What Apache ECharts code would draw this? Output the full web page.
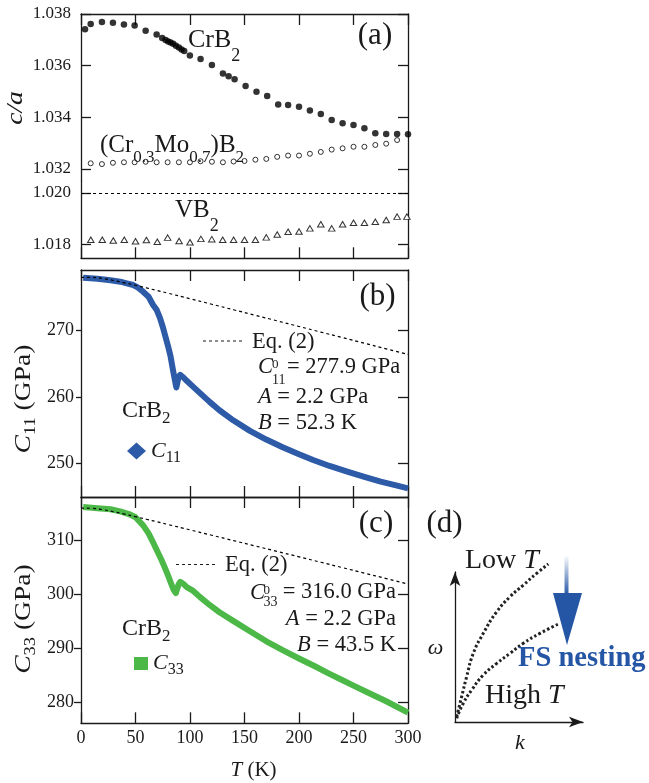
<!DOCTYPE html>
<html>
<head>
<meta charset="utf-8">
<script src="https://cdn.jsdelivr.net/npm/echarts@6/dist/echarts.min.js"></script>
<style>
  html, body { margin: 0; padding: 0; background: #ffffff; }
  #chart { width: 649px; height: 783px; }
</style>
</head>
<body>
<div id="chart"></div>
<script>
// ---------- (a) c/a ratio versus temperature ----------
const crb2T  = [3.7, 8.9, 19.2, 29.3, 39.4, 49.2, 59.3, 69.4, 74.5, 77.6, 80, 82.2, 84.6, 87.1, 89.8, 92.3, 94.7, 99.9, 109.7, 120.1, 130.2, 135.4, 140.9, 151, 161, 170.8, 180.9, 190, 200, 210, 220, 230, 240, 250, 260, 270, 280, 290, 300];
const crb2CA = [1.03741, 1.03761, 1.03769, 1.03766, 1.03759, 1.03755, 1.03735, 1.03721, 1.03707, 1.03699, 1.03694, 1.03690, 1.03685, 1.03677, 1.03670, 1.03663, 1.03657, 1.03639, 1.03626, 1.03603, 1.03570, 1.03559, 1.03547, 1.03521, 1.03499, 1.03483, 1.03450, 1.03448, 1.03441, 1.03426, 1.03413, 1.03390, 1.03377, 1.03370, 1.03358, 1.03338, 1.03335, 1.03335, 1.03334];

const crmoT  = [8.9, 19.2, 29.3, 39.4, 49.2, 59.3, 69.4, 79.5, 89.8, 99.9, 109.7, 120.1, 130.2, 140, 150, 160, 170, 180, 190, 200, 210, 220, 230, 240, 250, 260, 270, 280, 290];
const crmoCA = [1.03222, 1.03219, 1.03224, 1.03226, 1.03226, 1.03228, 1.03226, 1.03226, 1.03226, 1.03226, 1.03230, 1.03228, 1.03226, 1.03229, 1.03231, 1.03236, 1.03239, 1.03247, 1.03252, 1.03252, 1.03259, 1.03266, 1.03275, 1.03280, 1.03286, 1.03286, 1.03293, 1.03298, 1.03312];

const vb2T  = [9, 19.5, 29.6, 39.7, 50, 60, 70, 79.5, 90, 100, 110, 120, 130, 140, 150, 160, 170, 180, 190, 200, 210, 220, 230, 240, 250, 260, 270, 280, 290, 299];
const vb2CA = [1.01818, 1.01818, 1.01815, 1.01818, 1.01812, 1.01817, 1.01810, 1.01826, 1.01813, 1.01808, 1.01821, 1.01820, 1.01818, 1.01818, 1.01818, 1.01818, 1.01827, 1.01838, 1.01849, 1.01850, 1.01862, 1.01878, 1.01862, 1.01878, 1.01884, 1.01884, 1.01888, 1.01895, 1.01908, 1.01908];

// ---------- (b) C11 of CrB2 ----------
const c11T = [2, 15, 27, 36, 42, 48, 52, 57, 62, 66, 69.5, 72.5, 75, 77, 80, 82, 84.5, 86.5, 87.5, 88.5, 89.5, 91, 94, 97, 103, 109, 118, 127, 140, 155, 170, 185, 200, 213, 228, 245, 260, 275, 290, 300];
const c11  = [277.85, 277.7, 277.45, 277.25, 277.0, 276.75, 276.4, 275.75, 275.0, 273.8, 273.0, 271.8, 270.5, 269.3, 267.5, 266.2, 263.9, 262.2, 261.4, 261.6, 263.0, 263.3, 262.9, 262.4, 261.5, 260.6, 259.25, 258.0, 256.45, 254.9, 253.6, 252.45, 251.4, 250.55, 249.65, 248.75, 248.0, 247.3, 246.7, 246.3];

// Eq. (2) curve for C11 (C0 = 277.9 GPa, A = 2.2 GPa, B = 52.3 K)
const fitT    = [0, 10, 20, 30, 40, 50, 60, 70, 80, 100, 120, 140, 160, 180, 200, 220, 240, 260, 280, 300];
const fitC11  = [277.9, 277.89, 277.73, 277.43, 277.08, 276.71, 276.32, 275.92, 275.52, 274.70, 273.87, 273.04, 272.21, 271.38, 270.54, 269.70, 268.87, 268.03, 267.19, 266.35];

// ---------- (c) C33 of CrB2 ----------
const c33T = [2, 15, 27, 36, 44, 50, 57, 62, 66, 70, 74, 77, 80, 83, 85, 87, 88.5, 89.5, 91, 94, 97, 103, 109, 118, 127, 140, 155, 170, 185, 200, 215, 228, 240, 250, 265, 280, 300];
const c33  = [316.2, 316.0, 315.8, 315.4, 314.9, 314.3, 312.8, 311.3, 309.7, 308.0, 306.3, 304.9, 303.4, 301.8, 300.8, 300.2, 300.3, 301.8, 302.3, 301.9, 301.3, 300.6, 299.5, 298.0, 296.65, 295.0, 293.1, 291.25, 289.6, 288.05, 286.55, 285.2, 284.0, 283.0, 281.55, 280.1, 278.0];

// Eq. (2) curve for C33 (C0 = 316.0 GPa, A = 2.2 GPa, B = 43.5 K)
const fitC33 = [316.0, 315.97, 315.72, 315.33, 314.88, 314.41, 313.93, 313.45, 312.95, 311.96, 310.96, 309.96, 308.96, 307.95, 306.95, 305.94, 304.93, 303.92, 302.91, 301.90];

// ---------- tick labels ----------
const tTicks       = [0, 50, 100, 150, 200, 250, 300];
const caTicksUpper = [1.032, 1.034, 1.036, 1.038];
const caTicksLower = [1.018, 1.020];
const c11Ticks     = [250, 260, 270];
const c33Ticks     = [280, 290, 300, 310];

// ---------- (d) schematic dispersion omega(k) ----------
const lowTk  = [0.013, 0.052, 0.091, 0.143, 0.221, 0.326, 0.430, 0.534, 0.638, 0.729];
const lowTw  = [0.035, 0.169, 0.302, 0.458, 0.591, 0.735, 0.835, 0.913, 0.991, 1.053];
const highTk = [0.013, 0.065, 0.130, 0.221, 0.326, 0.430, 0.534, 0.664, 0.807];
const highTw = [0.025, 0.125, 0.213, 0.313, 0.391, 0.458, 0.525, 0.591, 0.653];

// ---------- styling ----------
const SERIF = '"Liberation Serif", "Times New Roman", serif';
const INK = '#1a1a1a';
const BLUE = '#2e5ba8';
const GREEN = '#4cb848';
const ARROW_BLUE = '#2556a6';

const zip = (xs, ys) => xs.map((x, i) => [x, ys[i]]);

function xFrame(gridIndex, position, withLabels) {
  return {
    type: 'value', gridIndex, position, min: tTicks[0], max: tTicks[tTicks.length - 1], interval: 50,
    axisLine: { show: true, onZero: false, lineStyle: { color: INK, width: 1.3 } },
    axisTick: { show: true, inside: true, length: 11, lineStyle: { color: INK, width: 1.3 } },
    axisLabel: { show: withLabels, color: INK, fontFamily: SERIF, fontSize: 18, margin: 6 },
    splitLine: { show: false }
  };
}

function yFrame(gridIndex, position, min, max, ticks, o) {
  const left = position === 'left';
  return {
    type: 'value', gridIndex, position, min, max,
    axisLine: { show: true, onZero: false, lineStyle: { color: INK, width: 1.3 } },
    axisTick: {
      show: true, inside: left ? o.inside : true, length: left ? o.len : 10,
      customValues: ticks, lineStyle: { color: INK, width: 1.3 }
    },
    axisLabel: {
      show: left, customValues: ticks, formatter: o.fmt, color: INK,
      fontFamily: SERIF, fontSize: o.fs, margin: o.margin
    },
    splitLine: { show: false }
  };
}

const fmt3 = v => Number(v).toFixed(3);
const fmt0 = v => String(Math.round(v));

// ranges of the two halves of the broken c/a axis
const caUpper = [1.031535, 1.038];
const caLower = [1.017454, 1.020468];

function text(x, y, str, size, extra) {
  const st = Object.assign({
    text: str, fontSize: size, fontFamily: SERIF, fill: INK,
    align: 'left', verticalAlign: 'middle'
  }, extra || {});
  return { type: 'text', x, y, z: 100, style: st };
}
function subRich(size, drop) {
  return { s: { fontSize: size, fontFamily: SERIF, fill: INK, padding: [drop, 0, 0, 0] },
           i: { fontStyle: 'italic', fontFamily: SERIF, fill: INK } };
}
function italicRich(size) {
  return { i: { fontStyle: 'italic', fontSize: size, fontFamily: SERIF, fill: INK } };
}
function axisTitle(x, y, str, size, sub) {
  return { type: 'text', x, y, rotation: Math.PI / 2, scaleX: 1.15, z: 100,
    style: { text: str, fontSize: size, fontFamily: SERIF, fill: INK, align: 'center', verticalAlign: 'middle',
             rich: { i: { fontStyle: 'italic', fontSize: size, fontFamily: SERIF, fill: INK },
                     s: { fontSize: sub, fontFamily: SERIF, fill: INK, padding: [13, 0, 0, 0] } } } };
}

const graphics = [
  // panel (a)
  text(375, 36, '(a)', 31, { align: 'center' }),
  text(188, 40, 'CrB{s|2}', 26, { rich: subRich(18, 33) }),
  text(100, 145, '(Cr{s|0.3}Mo{s|0.7})B{s|2}', 25, { rich: subRich(17, 25) }),
  text(175, 210, 'VB{s|2}', 25, { rich: subRich(18, 33) }),
  { type: 'text', x: 16, y: 108, rotation: Math.PI / 2, scaleX: 1.15, z: 100,
    style: { text: 'c/a', fontSize: 24, fontStyle: 'italic', fontFamily: SERIF, fill: INK, align: 'center', verticalAlign: 'middle' } },

  // panel (b)
  text(377.5, 296.5, '(b)', 31, { align: 'center' }),
  { type: 'line', z: 100, shape: { x1: 203, y1: 341, x2: 245, y2: 341 }, style: { stroke: INK, lineWidth: 1.2, lineDash: [3, 3] } },
  text(252, 342, 'Eq. (2)', 22.5),
  text(258, 367, 'C', 22.5, { fontStyle: 'italic' }),
  text(272, 365, '0', 13),
  text(272, 380, '11', 14),
  text(287, 367, '= 277.9 GPa', 22.5),
  text(258, 397, '{i|A} = 2.2 GPa', 22.5, { rich: italicRich(22.5) }),
  text(258, 423.5, '{i|B} = 52.3 K', 22.5, { rich: italicRich(22.5) }),
  text(122, 410.5, 'CrB{s|2}', 24, { rich: subRich(17, 17) }),
  axisTitle(24, 399, '{i|C}{s|11} (GPa)', 24, 16),

  // panel (c)
  text(376, 524, '(c)', 31, { align: 'center' }),
  { type: 'line', z: 100, shape: { x1: 176, y1: 564.5, x2: 217, y2: 564.5 }, style: { stroke: INK, lineWidth: 1.2, lineDash: [3, 3] } },
  text(225, 565, 'Eq. (2)', 22.5),
  text(250, 593, 'C', 22.5, { fontStyle: 'italic' }),
  text(263.5, 591, '0', 13),
  text(263.5, 602, '33', 14),
  text(396, 592, '= 316.0 GPa', 22.5, { align: 'right' }),
  text(396, 619.5, '{i|A} = 2.2 GPa', 22.5, { align: 'right', rich: italicRich(22.5) }),
  text(396, 645.5, '{i|B} = 43.5 K', 22.5, { align: 'right', rich: italicRich(22.5) }),
  text(122, 628.5, 'CrB{s|2}', 24, { rich: subRich(17, 17) }),
  axisTitle(24, 619, '{i|C}{s|33} (GPa)', 24, 16),
  text(253.5, 770, '{i|T} (K)', 21, { align: 'center', rich: italicRich(21) }),

  // panel (d)
  text(444.5, 524, '(d)', 31, { align: 'center' }),
  text(465, 561, 'Low {i|T}', 28, { rich: italicRich(28) }),
  text(485, 696, 'High {i|T}', 28, { rich: italicRich(28) }),
  text(435.5, 648.5, 'ω', 22, { align: 'center', fontStyle: 'italic' }),
  text(520, 743.5, 'k', 22, { align: 'center', fontStyle: 'italic' }),
  text(518, 659, 'FS nesting', 28.5, { fontWeight: 'bold', fill: ARROW_BLUE }),
  { type: 'rect', z: 100, shape: { x: 564.5, y: 555, width: 4, height: 40 },
    style: { fill: new echarts.graphic.LinearGradient(0, 0, 0, 1, [
      { offset: 0, color: 'rgba(37,86,166,0)' }, { offset: 1, color: ARROW_BLUE }]) } },
  { type: 'polygon', z: 100, shape: { points: [[553, 593], [582, 593], [567, 645]] }, style: { fill: ARROW_BLUE } }
];

const legendText = (size, sub, drop) => ({
  color: INK, fontFamily: SERIF, fontSize: size,
  rich: {
    i: { fontStyle: 'italic', fontSize: size, fontFamily: SERIF, color: INK },
    s: { fontSize: sub, fontFamily: SERIF, color: INK, padding: [drop, 0, 0, 0] }
  }
});

const option = {
  animation: false,
  backgroundColor: '#ffffff',
  textStyle: { fontFamily: SERIF },
  grid: [
    { left: 81, top: 14, width: 327, height: 167, outerBoundsMode: 'none' },
    { left: 81, top: 181, width: 327, height: 77.3, outerBoundsMode: 'none' },
    { left: 81, top: 270, width: 327, height: 227, outerBoundsMode: 'none' },
    { left: 81, top: 497, width: 327, height: 226.3, outerBoundsMode: 'none' },
    { left: 455, top: 572, width: 128, height: 150, outerBoundsMode: 'none' }
  ],
  xAxis: [
    xFrame(0, 'top', false),
    xFrame(1, 'bottom', false),
    xFrame(2, 'bottom', false),
    xFrame(2, 'top', false),
    xFrame(3, 'bottom', true),
    xFrame(3, 'top', false),
    { type: 'value', gridIndex: 4, min: 0, max: 1, position: 'bottom',
      axisLine: { show: true, onZero: false, symbol: ['none', 'arrow'], symbolSize: [8, 14], lineStyle: { color: INK, width: 1.3 } },
      axisTick: { show: false }, axisLabel: { show: false }, splitLine: { show: false } }
  ],
  yAxis: [
    yFrame(0, 'left', caUpper[0], caUpper[1], caTicksUpper, { inside: true, len: 10, fmt: fmt3, fs: 17, margin: 10 }),
    yFrame(0, 'right', caUpper[0], caUpper[1], caTicksUpper, {}),
    yFrame(1, 'left', caLower[0], caLower[1], caTicksLower, { inside: true, len: 10, fmt: fmt3, fs: 17, margin: 10 }),
    yFrame(1, 'right', caLower[0], caLower[1], caTicksLower, {}),
    yFrame(2, 'left', 245, 279, c11Ticks, { inside: false, len: 5, fmt: fmt0, fs: 18, margin: 7 }),
    yFrame(2, 'right', 245, 279, c11Ticks, {}),
    yFrame(3, 'left', 276, 318.07, c33Ticks, { inside: false, len: 7, fmt: fmt0, fs: 18, margin: 7 }),
    yFrame(3, 'right', 276, 318.07, c33Ticks, {}),
    { type: 'value', gridIndex: 4, min: 0, max: 1, position: 'left',
      axisLine: { show: true, onZero: false, symbol: ['none', 'arrow'], symbolSize: [8, 14], lineStyle: { color: INK, width: 1.3 } },
      axisTick: { show: false }, axisLabel: { show: false }, splitLine: { show: false } }
  ],
  legend: [
    { data: [{ name: 'C11', icon: 'diamond' }], left: 127, top: 440, padding: 0, itemWidth: 19, itemHeight: 17,
      selectedMode: false, formatter: () => '{i|C}{s|11}', textStyle: legendText(22, 16, 13),
      itemStyle: { color: BLUE } },
    { data: [{ name: 'C33', icon: 'rect' }], left: 134, top: 652.5, padding: 0, itemWidth: 14, itemHeight: 13,
      selectedMode: false, formatter: () => '{i|C}{s|33}', textStyle: legendText(22, 16, 13),
      itemStyle: { color: GREEN } }
  ],
  series: [
    { name: 'CrB2', type: 'scatter', xAxisIndex: 0, yAxisIndex: 0, data: zip(crb2T, crb2CA),
      symbol: 'circle', symbolSize: 6.5, itemStyle: { color: '#000000' }, z: 3 },
    { name: '(Cr0.3Mo0.7)B2', type: 'scatter', xAxisIndex: 0, yAxisIndex: 0, data: zip(crmoT, crmoCA),
      symbol: 'circle', symbolSize: 5, itemStyle: { color: '#ffffff', borderColor: '#000000', borderWidth: 1 }, z: 3 },
    { name: 'VB2', type: 'scatter', xAxisIndex: 1, yAxisIndex: 2, data: zip(vb2T, vb2CA),
      symbol: 'triangle', symbolSize: [6.5, 5.5], itemStyle: { color: '#ffffff', borderColor: '#000000', borderWidth: 1 }, z: 3,
      markLine: { silent: true, symbol: ['none', 'none'], label: { show: false },
        lineStyle: { color: '#000000', width: 1, type: [3, 3] }, data: [{ yAxis: caTicksLower[1] }] } },

    { name: 'C11', type: 'line', xAxisIndex: 2, yAxisIndex: 4, data: zip(c11T, c11),
      showSymbol: false, symbol: 'none', smooth: false,
      lineStyle: { color: BLUE, width: 6, join: 'round' }, itemStyle: { color: BLUE }, z: 2 },
    { name: 'Eq2 C11', type: 'line', xAxisIndex: 2, yAxisIndex: 4, data: zip(fitT, fitC11),
      showSymbol: false, symbol: 'none', smooth: true,
      lineStyle: { color: '#000000', width: 1.2, type: [3, 3] }, z: 4 },

    { name: 'C33', type: 'line', xAxisIndex: 4, yAxisIndex: 6, data: zip(c33T, c33),
      showSymbol: false, symbol: 'none', smooth: false,
      lineStyle: { color: GREEN, width: 6, join: 'round' }, itemStyle: { color: GREEN }, z: 2 },
    { name: 'Eq2 C33', type: 'line', xAxisIndex: 4, yAxisIndex: 6, data: zip(fitT, fitC33),
      showSymbol: false, symbol: 'none', smooth: true,
      lineStyle: { color: '#000000', width: 1.2, type: [3, 3] }, z: 4 },

    { name: 'Low T', type: 'line', xAxisIndex: 6, yAxisIndex: 8, data: zip(lowTk, lowTw),
      showSymbol: false, symbol: 'none', smooth: true, clip: false,
      lineStyle: { color: '#222222', width: 3, type: [2.5, 2.3] } },
    { name: 'High T', type: 'line', xAxisIndex: 6, yAxisIndex: 8, data: zip(highTk, highTw),
      showSymbol: false, symbol: 'none', smooth: true, clip: false,
      lineStyle: { color: '#222222', width: 3, type: [2.5, 2.3] } }
  ],
  graphic: graphics
};

const chart = echarts.init(document.getElementById('chart'));
chart.setOption(option);
</script>
</body>
</html>
